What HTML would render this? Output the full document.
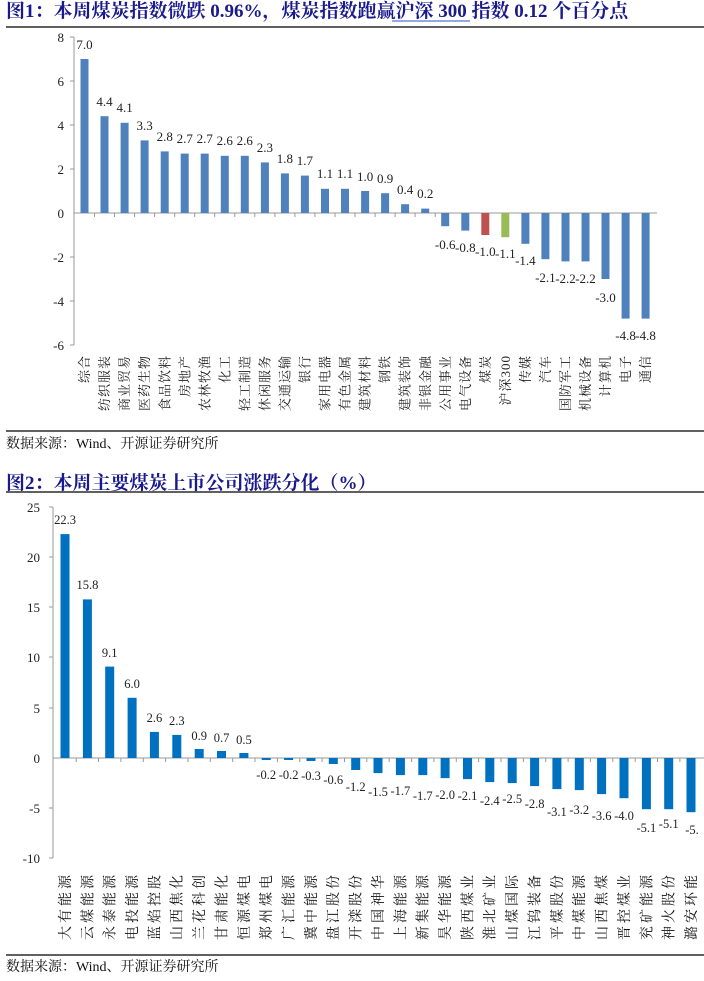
<!DOCTYPE html>
<html><head><meta charset="utf-8"><style>
body{margin:0;background:#fff;width:704px;height:981px;overflow:hidden}
svg{display:block}
.t{font-family:"Liberation Serif","Noto Serif CJK SC",serif;font-weight:bold;font-size:19px;fill:#1a1a8c}
.n{font-family:"Liberation Serif",serif;font-size:13px;fill:#222}
.m{font-family:"Liberation Serif",serif;font-size:12.5px;fill:#222}
.c{font-family:"Liberation Serif","Noto Serif CJK SC",serif;font-size:13px;fill:#222}
.f{font-family:"Liberation Serif","Noto Serif CJK SC",serif;font-size:14px;fill:#111}
</style></head><body>
<svg width="704" height="981" viewBox="0 0 704 981" xmlns="http://www.w3.org/2000/svg">
<text class="t" x="6" y="17">图1：本周煤炭指数微跌 0.96%，煤炭指数跑赢沪深 300 指数 0.12 个百分点</text>
<line x1="392" y1="21" x2="470" y2="21" stroke="#2255cc" stroke-width="1"/>
<line x1="6" y1="27" x2="704" y2="27" stroke="#000" stroke-width="1.3"/>
<g class="n" text-anchor="end">
<text x="64" y="42">8</text><text x="64" y="86">6</text><text x="64" y="130">4</text><text x="64" y="174">2</text><text x="64" y="218">0</text><text x="64" y="262">-2</text><text x="64" y="306">-4</text><text x="64" y="350">-6</text>
</g>
<g stroke="#999" stroke-width="1">
<line x1="74" y1="37" x2="74" y2="345"/>
<line x1="70" y1="37" x2="74" y2="37"/><line x1="70" y1="81" x2="74" y2="81"/><line x1="70" y1="125" x2="74" y2="125"/><line x1="70" y1="169" x2="74" y2="169"/><line x1="70" y1="257" x2="74" y2="257"/><line x1="70" y1="301" x2="74" y2="301"/><line x1="70" y1="345" x2="74" y2="345"/>
<line x1="74" y1="213" x2="657" y2="213"/>
</g>
<g fill="#4f81bd">
<rect x="80.5" y="59" width="8" height="154"/>
<rect x="100.5" y="116.2" width="8" height="96.8"/>
<rect x="120.6" y="122.8" width="8" height="90.2"/>
<rect x="140.6" y="140.4" width="8" height="72.6"/>
<rect x="160.7" y="151.4" width="8" height="61.6"/>
<rect x="180.7" y="153.6" width="8" height="59.4"/>
<rect x="200.7" y="153.6" width="8" height="59.4"/>
<rect x="220.8" y="155.8" width="8" height="57.2"/>
<rect x="240.8" y="155.8" width="8" height="57.2"/>
<rect x="260.9" y="162.4" width="8" height="50.6"/>
<rect x="280.9" y="173.4" width="8" height="39.6"/>
<rect x="300.9" y="175.6" width="8" height="37.4"/>
<rect x="321" y="188.8" width="8" height="24.2"/>
<rect x="341" y="188.8" width="8" height="24.2"/>
<rect x="361.1" y="191" width="8" height="22"/>
<rect x="381.1" y="193.2" width="8" height="19.8"/>
<rect x="401.1" y="204.2" width="8" height="8.8"/>
<rect x="421.2" y="208.6" width="8" height="4.4"/>
<rect x="441.2" y="213" width="8" height="13.2"/>
<rect x="461.3" y="213" width="8" height="17.6"/>
<rect x="521.4" y="213" width="8" height="30.8"/>
<rect x="541.4" y="213" width="8" height="46.2"/>
<rect x="561.5" y="213" width="8" height="48.4"/>
<rect x="581.5" y="213" width="8" height="48.4"/>
<rect x="601.5" y="213" width="8" height="66"/>
<rect x="621.6" y="213" width="8" height="105.6"/>
<rect x="641.6" y="213" width="8" height="105.6"/>
</g>
<rect x="481.3" y="213" width="8" height="22" fill="#c0504d"/>
<rect x="501.3" y="213" width="8" height="24.2" fill="#9bbb59"/>
<g class="n" text-anchor="middle">
<text x="84.5" y="49">7.0</text><text x="104.5" y="106">4.4</text><text x="124.6" y="112">4.1</text><text x="144.6" y="130">3.3</text><text x="164.7" y="141">2.8</text><text x="184.7" y="143">2.7</text><text x="204.7" y="143">2.7</text><text x="224.8" y="145">2.6</text><text x="244.8" y="145">2.6</text><text x="264.9" y="152">2.3</text><text x="284.9" y="163">1.8</text><text x="304.9" y="165">1.7</text><text x="325" y="178">1.1</text><text x="345" y="178">1.1</text><text x="365.1" y="181">1.0</text><text x="385.1" y="183">0.9</text><text x="405.1" y="194">0.4</text><text x="425.2" y="198">0.2</text>
<text x="445.2" y="249">-0.6</text><text x="465.3" y="252">-0.8</text><text x="485.3" y="256">-1.0</text><text x="505.3" y="258">-1.1</text><text x="525.4" y="265">-1.4</text><text x="545.4" y="282">-2.1</text><text x="565.5" y="283">-2.2</text><text x="585.5" y="283">-2.2</text><text x="605.5" y="302">-3.0</text><text x="625.6" y="340">-4.8</text><text x="645.6" y="340">-4.8</text>
</g>
<g stroke="#999"><line x1="94.5" y1="213" x2="94.5" y2="217"/><line x1="114.5" y1="213" x2="114.5" y2="217"/><line x1="134.6" y1="213" x2="134.6" y2="217"/><line x1="154.6" y1="213" x2="154.6" y2="217"/><line x1="174.7" y1="213" x2="174.7" y2="217"/><line x1="194.7" y1="213" x2="194.7" y2="217"/><line x1="214.7" y1="213" x2="214.7" y2="217"/><line x1="234.8" y1="213" x2="234.8" y2="217"/><line x1="254.8" y1="213" x2="254.8" y2="217"/><line x1="274.9" y1="213" x2="274.9" y2="217"/><line x1="294.9" y1="213" x2="294.9" y2="217"/><line x1="314.9" y1="213" x2="314.9" y2="217"/><line x1="335" y1="213" x2="335" y2="217"/><line x1="355" y1="213" x2="355" y2="217"/><line x1="375.1" y1="213" x2="375.1" y2="217"/><line x1="395.1" y1="213" x2="395.1" y2="217"/><line x1="415.1" y1="213" x2="415.1" y2="217"/><line x1="435.2" y1="213" x2="435.2" y2="217"/></g>
<g class="c" text-anchor="end" style="letter-spacing:1px">
<text transform="translate(84.5,355) rotate(-90)" dy="0.35em">综合</text>
<text transform="translate(104.5,355) rotate(-90)" dy="0.35em">纺织服装</text>
<text transform="translate(124.6,355) rotate(-90)" dy="0.35em">商业贸易</text>
<text transform="translate(144.6,355) rotate(-90)" dy="0.35em">医药生物</text>
<text transform="translate(164.7,355) rotate(-90)" dy="0.35em">食品饮料</text>
<text transform="translate(184.7,355) rotate(-90)" dy="0.35em">房地产</text>
<text transform="translate(204.7,355) rotate(-90)" dy="0.35em">农林牧渔</text>
<text transform="translate(224.8,355) rotate(-90)" dy="0.35em">化工</text>
<text transform="translate(244.8,355) rotate(-90)" dy="0.35em">轻工制造</text>
<text transform="translate(264.9,355) rotate(-90)" dy="0.35em">休闲服务</text>
<text transform="translate(284.9,355) rotate(-90)" dy="0.35em">交通运输</text>
<text transform="translate(304.9,355) rotate(-90)" dy="0.35em">银行</text>
<text transform="translate(325,355) rotate(-90)" dy="0.35em">家用电器</text>
<text transform="translate(345,355) rotate(-90)" dy="0.35em">有色金属</text>
<text transform="translate(365.1,355) rotate(-90)" dy="0.35em">建筑材料</text>
<text transform="translate(385.1,355) rotate(-90)" dy="0.35em">钢铁</text>
<text transform="translate(405.1,355) rotate(-90)" dy="0.35em">建筑装饰</text>
<text transform="translate(425.2,355) rotate(-90)" dy="0.35em">非银金融</text>
<text transform="translate(445.2,355) rotate(-90)" dy="0.35em">公用事业</text>
<text transform="translate(465.3,355) rotate(-90)" dy="0.35em">电气设备</text>
<text transform="translate(485.3,355) rotate(-90)" dy="0.35em">煤炭</text>
<text transform="translate(505.3,355) rotate(-90)" dy="0.35em">沪深300</text>
<text transform="translate(525.4,355) rotate(-90)" dy="0.35em">传媒</text>
<text transform="translate(545.4,355) rotate(-90)" dy="0.35em">汽车</text>
<text transform="translate(565.5,355) rotate(-90)" dy="0.35em">国防军工</text>
<text transform="translate(585.5,355) rotate(-90)" dy="0.35em">机械设备</text>
<text transform="translate(605.5,355) rotate(-90)" dy="0.35em">计算机</text>
<text transform="translate(625.6,355) rotate(-90)" dy="0.35em">电子</text>
<text transform="translate(645.6,355) rotate(-90)" dy="0.35em">通信</text>
</g>
<line x1="6" y1="431" x2="704" y2="431" stroke="#000" stroke-width="1.3"/>
<text class="f" x="6" y="448">数据来源：Wind、开源证券研究所</text>

<text class="t" x="6" y="489">图2：本周主要煤炭上市公司涨跌分化（%）</text>
<line x1="6" y1="492" x2="704" y2="492" stroke="#000" stroke-width="1.3"/>
<g class="n" text-anchor="end">
<text x="40" y="512">25</text><text x="40" y="562">20</text><text x="40" y="612">15</text><text x="40" y="662">10</text><text x="40" y="713">5</text><text x="40" y="763">0</text><text x="40" y="813">-5</text><text x="40" y="863">-10</text>
</g>
<g stroke="#999">
<line x1="53" y1="507" x2="53" y2="858"/>
<line x1="49" y1="507" x2="53" y2="507"/><line x1="49" y1="557" x2="53" y2="557"/><line x1="49" y1="607" x2="53" y2="607"/><line x1="49" y1="657" x2="53" y2="657"/><line x1="49" y1="708" x2="53" y2="708"/><line x1="49" y1="808" x2="53" y2="808"/><line x1="49" y1="858" x2="53" y2="858"/>
<line x1="53" y1="758" x2="704" y2="758"/>
</g>
<g fill="#0070c0">
<rect x="60.5" y="534.1" width="9" height="223.9"/>
<rect x="82.9" y="599.4" width="9" height="158.6"/>
<rect x="105.2" y="666.6" width="9" height="91.4"/>
<rect x="127.6" y="697.8" width="9" height="60.2"/>
<rect x="149.9" y="731.9" width="9" height="26.1"/>
<rect x="172.3" y="734.9" width="9" height="23.1"/>
<rect x="194.7" y="749" width="9" height="9"/>
<rect x="217" y="751" width="9" height="7"/>
<rect x="239.4" y="753" width="9" height="5"/>
<rect x="261.7" y="758" width="9" height="2"/>
<rect x="284.1" y="758" width="9" height="2"/>
<rect x="306.5" y="758" width="9" height="3"/>
<rect x="328.8" y="758" width="9" height="6"/>
<rect x="351.2" y="758" width="9" height="12"/>
<rect x="373.5" y="758" width="9" height="15.1"/>
<rect x="395.9" y="758" width="9" height="17.1"/>
<rect x="418.3" y="758" width="9" height="17.1"/>
<rect x="440.6" y="758" width="9" height="20.1"/>
<rect x="463" y="758" width="9" height="21.1"/>
<rect x="485.3" y="758" width="9" height="24.1"/>
<rect x="507.7" y="758" width="9" height="25.1"/>
<rect x="530.1" y="758" width="9" height="28.1"/>
<rect x="552.4" y="758" width="9" height="31.1"/>
<rect x="574.8" y="758" width="9" height="32.1"/>
<rect x="597.1" y="758" width="9" height="36.1"/>
<rect x="619.5" y="758" width="9" height="40.2"/>
<rect x="641.9" y="758" width="9" height="51.2"/>
<rect x="664.2" y="758" width="9" height="51.2"/>
<rect x="686.5" y="758" width="9" height="54.2"/>
</g>
<g class="m" text-anchor="middle">
<text x="65" y="524">22.3</text><text x="87.4" y="589">15.8</text><text x="109.7" y="657">9.1</text><text x="132.1" y="688">6.0</text><text x="154.4" y="722">2.6</text><text x="176.8" y="725">2.3</text><text x="199.2" y="740">0.9</text><text x="221.5" y="742">0.7</text><text x="243.9" y="744">0.5</text>
<text x="266.2" y="779">-0.2</text><text x="288.6" y="779">-0.2</text><text x="311" y="780">-0.3</text><text x="333.3" y="784">-0.6</text><text x="355.7" y="791">-1.2</text><text x="378" y="796">-1.5</text><text x="400.4" y="795">-1.7</text><text x="422.8" y="800">-1.7</text><text x="445.1" y="799">-2.0</text><text x="467.5" y="800">-2.1</text><text x="489.8" y="805">-2.4</text><text x="512.2" y="803">-2.5</text><text x="534.6" y="808">-2.8</text><text x="556.9" y="816">-3.1</text><text x="579.3" y="814">-3.2</text><text x="601.6" y="820">-3.6</text><text x="624" y="820">-4.0</text><text x="646.4" y="832">-5.1</text><text x="668.7" y="828">-5.1</text><text x="692" y="834">-5.</text>
</g>
<g stroke="#999"><line x1="76.2" y1="758" x2="76.2" y2="762"/><line x1="98.5" y1="758" x2="98.5" y2="762"/><line x1="120.9" y1="758" x2="120.9" y2="762"/><line x1="143.3" y1="758" x2="143.3" y2="762"/><line x1="165.6" y1="758" x2="165.6" y2="762"/><line x1="188" y1="758" x2="188" y2="762"/><line x1="210.3" y1="758" x2="210.3" y2="762"/><line x1="232.7" y1="758" x2="232.7" y2="762"/><line x1="255" y1="758" x2="255" y2="762"/><line x1="277.4" y1="758" x2="277.4" y2="762"/><line x1="299.8" y1="758" x2="299.8" y2="762"/><line x1="322.1" y1="758" x2="322.1" y2="762"/><line x1="344.5" y1="758" x2="344.5" y2="762"/><line x1="366.8" y1="758" x2="366.8" y2="762"/><line x1="389.2" y1="758" x2="389.2" y2="762"/><line x1="411.6" y1="758" x2="411.6" y2="762"/><line x1="433.9" y1="758" x2="433.9" y2="762"/><line x1="456.3" y1="758" x2="456.3" y2="762"/><line x1="478.6" y1="758" x2="478.6" y2="762"/><line x1="501" y1="758" x2="501" y2="762"/><line x1="523.4" y1="758" x2="523.4" y2="762"/><line x1="545.7" y1="758" x2="545.7" y2="762"/><line x1="568.1" y1="758" x2="568.1" y2="762"/><line x1="590.4" y1="758" x2="590.4" y2="762"/><line x1="612.8" y1="758" x2="612.8" y2="762"/><line x1="635.2" y1="758" x2="635.2" y2="762"/><line x1="657.5" y1="758" x2="657.5" y2="762"/><line x1="679.9" y1="758" x2="679.9" y2="762"/></g>
<g class="f" text-anchor="start" style="letter-spacing:3px">
<text transform="translate(65,940) rotate(-90)" dy="0.35em">大有能源</text>
<text transform="translate(87.4,940) rotate(-90)" dy="0.35em">云煤能源</text>
<text transform="translate(109.7,940) rotate(-90)" dy="0.35em">永泰能源</text>
<text transform="translate(132.1,940) rotate(-90)" dy="0.35em">电投能源</text>
<text transform="translate(154.4,940) rotate(-90)" dy="0.35em">蓝焰控股</text>
<text transform="translate(176.8,940) rotate(-90)" dy="0.35em">山西焦化</text>
<text transform="translate(199.2,940) rotate(-90)" dy="0.35em">兰花科创</text>
<text transform="translate(221.5,940) rotate(-90)" dy="0.35em">甘肃能化</text>
<text transform="translate(243.9,940) rotate(-90)" dy="0.35em">恒源煤电</text>
<text transform="translate(266.2,940) rotate(-90)" dy="0.35em">郑州煤电</text>
<text transform="translate(288.6,940) rotate(-90)" dy="0.35em">广汇能源</text>
<text transform="translate(311,940) rotate(-90)" dy="0.35em">冀中能源</text>
<text transform="translate(333.3,940) rotate(-90)" dy="0.35em">盘江股份</text>
<text transform="translate(355.7,940) rotate(-90)" dy="0.35em">开滦股份</text>
<text transform="translate(378,940) rotate(-90)" dy="0.35em">中国神华</text>
<text transform="translate(400.4,940) rotate(-90)" dy="0.35em">上海能源</text>
<text transform="translate(422.8,940) rotate(-90)" dy="0.35em">新集能源</text>
<text transform="translate(445.1,940) rotate(-90)" dy="0.35em">昊华能源</text>
<text transform="translate(467.5,940) rotate(-90)" dy="0.35em">陕西煤业</text>
<text transform="translate(489.8,940) rotate(-90)" dy="0.35em">淮北矿业</text>
<text transform="translate(512.2,940) rotate(-90)" dy="0.35em">山煤国际</text>
<text transform="translate(534.6,940) rotate(-90)" dy="0.35em">江钨装备</text>
<text transform="translate(556.9,940) rotate(-90)" dy="0.35em">平煤股份</text>
<text transform="translate(579.3,940) rotate(-90)" dy="0.35em">中煤能源</text>
<text transform="translate(601.6,940) rotate(-90)" dy="0.35em">山西焦煤</text>
<text transform="translate(624,940) rotate(-90)" dy="0.35em">晋控煤业</text>
<text transform="translate(646.4,940) rotate(-90)" dy="0.35em">兖矿能源</text>
<text transform="translate(668.7,940) rotate(-90)" dy="0.35em">神火股份</text>
<text transform="translate(691,940) rotate(-90)" dy="0.35em">潞安环能</text>
</g>
<line x1="6" y1="955" x2="704" y2="955" stroke="#000" stroke-width="1.3"/>
<text class="f" x="6" y="971">数据来源：Wind、开源证券研究所</text>
</svg>
</body></html>
